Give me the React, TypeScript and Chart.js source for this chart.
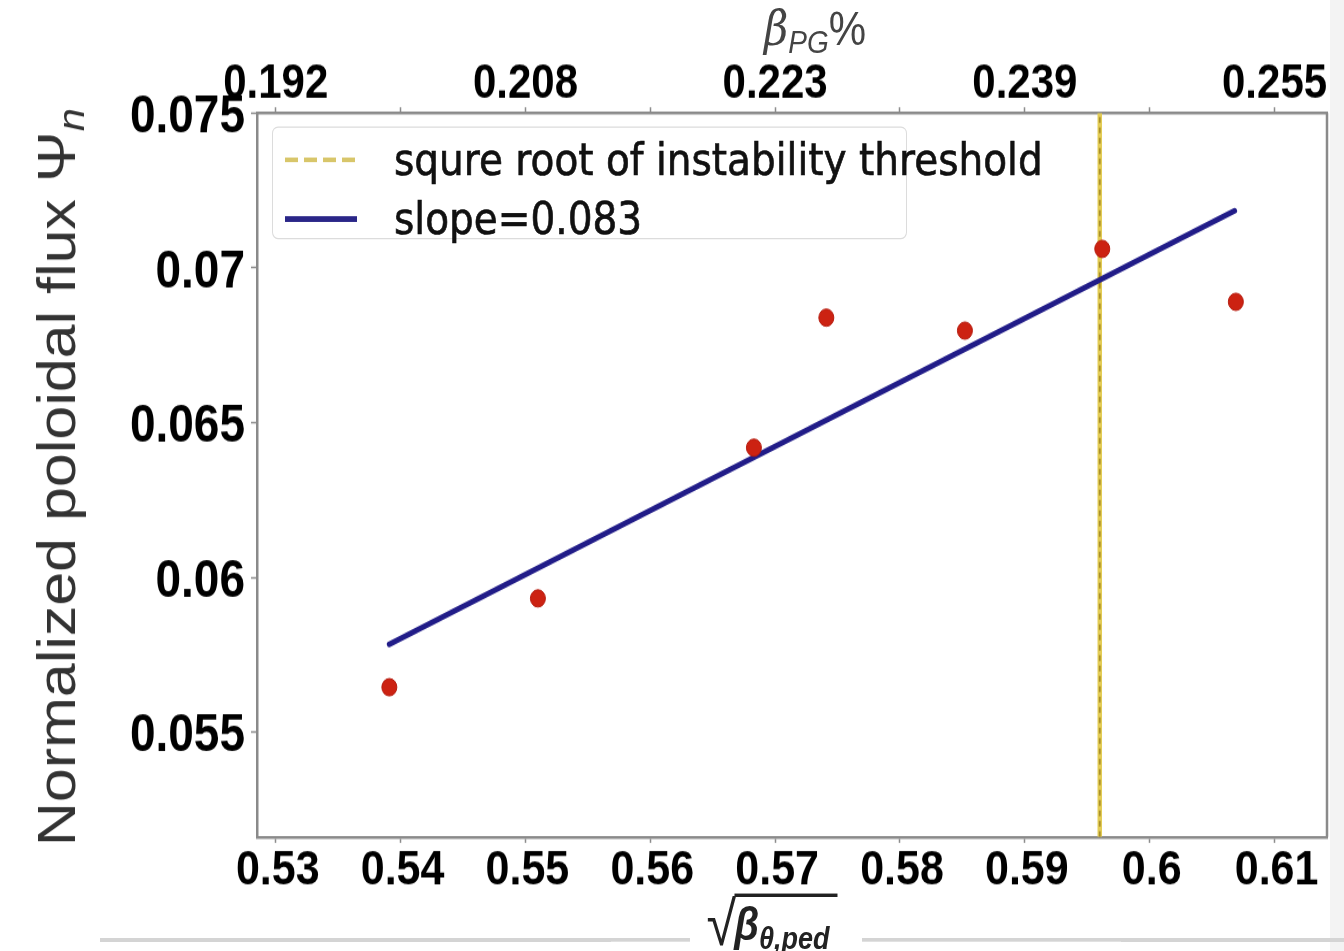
import React, { useEffect, useRef } from 'react';
import { Chart, registerables } from 'chart.js';

Chart.register(...registerables);

// ---- data ----
const xValues = [0.5391, 0.551, 0.5683, 0.5741, 0.5852, 0.5962, 0.6069];
const yValues = [0.05645, 0.05932, 0.06419, 0.06839, 0.06797, 0.07061, 0.0689];
const fitX = [0.5391, 0.6068];
const fitY = [0.05784, 0.07184];
const thresholdX = 0.596;

const xMin = 0.5285;
const xMax = 0.6142;
const yMin = 0.05161;
const yMax = 0.075;

const bottomTicks = [0.53, 0.54, 0.55, 0.56, 0.57, 0.58, 0.59, 0.6, 0.61];
const bottomTickLabels = ['0.53', '0.54', '0.55', '0.56', '0.57', '0.58', '0.59', '0.6', '0.61'];
const topTickLabels = ['0.192', '', '0.208', '', '0.223', '', '0.239', '', '0.255'];
const yTicks = [0.055, 0.06, 0.065, 0.07, 0.075];
const yTickLabels = ['0.055', '0.06', '0.065', '0.07', '0.075'];

const legendLabels = ['squre root of instability threshold', 'slope=0.083'];

// ---- layout ----
const W = 1344;
const S = 1.15; // vertical stretch of the reference picture
const H = 951 / S;
const PLOT_LEFT = 257;
const PLOT_RIGHT = 1327;
const PLOT_TOP = 113 / S;
const PLOT_BOTTOM = 837 / S;

const labelFor = (vals: number[], labels: string[]) => (v: number) => {
  const i = vals.findIndex((t) => Math.abs(t - v) < 1e-9);
  return i >= 0 ? labels[i] : '';
};

const tickFont = { family: '"Liberation Sans", Arial, sans-serif', weight: 'bold' as const };

const framePlugin = {
  id: 'frame',
  afterDraw(chart: any) {
    const { ctx, chartArea } = chart;
    ctx.save();
    ctx.strokeStyle = '#8a8a8a';
    ctx.lineWidth = 2.5;
    ctx.beginPath();
    ctx.moveTo(chartArea.right, chartArea.top);
    ctx.lineTo(chartArea.right, chartArea.bottom);
    ctx.stroke();
    ctx.restore();
  },
};

function ChartCanvas() {
  const ref = useRef<HTMLCanvasElement | null>(null);
  useEffect(() => {
    if (!ref.current) return;
    const chart = new Chart(ref.current, {
      type: 'scatter',
      data: {
        datasets: [
          {
            label: 'data',
            data: xValues.map((x, i) => ({ x, y: yValues[i] })),
            backgroundColor: '#cc2212',
            borderColor: '#b51a0d',
            borderWidth: 1,
            pointRadius: 7.5,
            showLine: false,
          },
          {
            label: 'fit',
            data: fitX.map((x, i) => ({ x, y: fitY[i] })),
            borderColor: '#211c88',
            borderWidth: 5,
            borderCapStyle: 'round',
            pointRadius: 0,
            showLine: true,
          },
          {
            label: 'threshold-dash',
            data: [
              { x: thresholdX, y: yMin },
              { x: thresholdX, y: yMax },
            ],
            borderColor: '#a88f2a',
            borderWidth: 1.8,
            borderDash: [5, 4],
            pointRadius: 0,
            showLine: true,
          },
          {
            label: 'threshold',
            data: [
              { x: thresholdX, y: yMin },
              { x: thresholdX, y: yMax },
            ],
            borderColor: '#e3cc55',
            borderWidth: 4.5,
            pointRadius: 0,
            showLine: true,
          },
        ],
      },
      options: {
        animation: false,
        responsive: true,
        maintainAspectRatio: false,
        devicePixelRatio: 1,
        layout: { padding: { left: 0, right: W - PLOT_RIGHT, top: 0, bottom: 0 } },
        plugins: { legend: { display: false }, tooltip: { enabled: false } },
        scales: {
          x: {
            type: 'linear',
            position: 'bottom',
            min: xMin,
            max: xMax,
            afterBuildTicks: (s: any) => {
              s.ticks = bottomTicks.map((v) => ({ value: v }));
            },
            afterFit: (s: any) => {
              s.height = H - PLOT_BOTTOM;
              s.paddingLeft = 0;
              s.paddingRight = 0;
            },
            ticks: {
              callback: labelFor(bottomTicks, bottomTickLabels),
              font: { ...tickFont, size: 43 },
              color: '#000',
              padding: -2,
              labelOffset: 2,
              maxRotation: 0,
              autoSkip: false,
            },
            grid: { drawOnChartArea: false, drawTicks: true, tickLength: 5, color: '#8a8a8a', tickWidth: 1.5 },
            border: { display: true, color: '#8a8a8a', width: 2.5 },
          },
          x2: {
            type: 'linear',
            position: 'top',
            min: xMin,
            max: xMax,
            afterBuildTicks: (s: any) => {
              s.ticks = bottomTicks.map((v) => ({ value: v }));
            },
            afterFit: (s: any) => {
              s.height = PLOT_TOP;
              s.paddingLeft = 0;
              s.paddingRight = 0;
            },
            ticks: {
              callback: labelFor(bottomTicks, topTickLabels),
              font: { ...tickFont, size: 42 },
              color: '#000',
              padding: -5,
              labelOffset: 0,
              maxRotation: 0,
              autoSkip: false,
            },
            grid: { drawOnChartArea: false, drawTicks: true, tickLength: 5, color: '#8a8a8a', tickWidth: 1.5 },
            border: { display: true, color: '#8a8a8a', width: 2.5 },
          },
          y: {
            type: 'linear',
            position: 'left',
            min: yMin,
            max: yMax,
            afterBuildTicks: (s: any) => {
              s.ticks = yTicks.map((v) => ({ value: v }));
            },
            afterFit: (s: any) => {
              s.width = PLOT_LEFT;
              s.paddingTop = 0;
              s.paddingBottom = 0;
            },
            ticks: {
              callback: labelFor(yTicks, yTickLabels),
              font: { ...tickFont, size: 46 },
              color: '#000',
              padding: 6,
              labelOffset: 4,
              autoSkip: false,
            },
            grid: { drawOnChartArea: false, drawTicks: true, tickLength: 6, color: '#8a8a8a', tickWidth: 1.5 },
            border: { display: true, color: '#8a8a8a', width: 2.5 },
          },
        },
      },
      plugins: [framePlugin],
    } as any);
    return () => chart.destroy();
  }, []);
  return <canvas ref={ref} />;
}

export default function App() {
  const abs = (o: React.CSSProperties): React.CSSProperties => ({ position: 'absolute', ...o });
  const legendText: React.CSSProperties = {
    fontFamily: '"DejaVu Sans", sans-serif',
    fontSize: 39,
    color: '#111',
    lineHeight: 1,
    whiteSpace: 'nowrap',
    transform: 'translateY(-50%)',
    WebkitTextStroke: '0.6px #111',
  };
  return (
    <div style={abs({ left: 0, top: 0, width: W, height: 951, background: '#fff', overflow: 'hidden' })}>
      <div
        style={abs({
          left: 0,
          top: 0,
          width: W,
          height: H,
          transform: `scaleY(${S})`,
          transformOrigin: '0 0',
        })}
      >
        {/* right light strip (behind the chart) */}
        <div style={abs({ left: 1330, top: 0, width: 14, height: H, background: '#f3f3f3' })} />

        <div style={abs({ left: 0, top: 0, width: W, height: H })}>
          <ChartCanvas />
        </div>

        {/* legend */}
        <div
          style={abs({
            left: 272,
            top: 110,
            width: 633,
            height: 96,
            border: '1.5px solid #dcdcdc',
            borderRadius: 6,
            background: 'rgba(255,255,255,0.85)',
          })}
        />
        <div
          style={abs({
            left: 285,
            top: 139 - 2,
            width: 72,
            height: 4,
            background: 'repeating-linear-gradient(90deg, #d8c66a 0 13px, transparent 13px 19px)',
          })}
        />
        <div style={abs({ left: 394, top: 139, ...legendText })}>{legendLabels[0]}</div>
        <div style={abs({ left: 285, top: 190 - 2.5, width: 72, height: 5, background: '#2a2688' })} />
        <div style={abs({ left: 394, top: 190, ...legendText })}>{legendLabels[1]}</div>

        {/* y title */}
        <div
          style={abs({
            left: 60,
            top: 415,
            transform: 'translate(-50%, -50%) rotate(-90deg)',
            fontFamily: '"Liberation Sans", Arial, sans-serif',
            fontSize: 53,
            color: '#333',
            whiteSpace: 'nowrap',
            lineHeight: 1,
          })}
        >
          Normalized poloidal flux Ψ<sub style={{ fontStyle: 'italic', fontSize: 36, verticalAlign: '-0.25em' }}>n</sub>
        </div>

        {/* top title */}
        <div
          style={abs({
            left: 815,
            top: 28,
            transform: 'translate(-50%, -50%)',
            fontFamily: '"Liberation Sans", Arial, sans-serif',
            fontSize: 42,
            color: '#444',
            whiteSpace: 'nowrap',
            lineHeight: 1,
          })}
        >
          <span style={{ fontStyle: 'italic', fontFamily: '"DejaVu Serif", serif' }}>β</span>
          <sub style={{ fontStyle: 'italic', fontSize: 28, verticalAlign: '-0.25em' }}>PG</sub>%
        </div>

        {/* bottom title */}
        <div
          style={abs({
            left: 772,
            top: 803,
            transform: 'translate(-50%, -50%)',
            fontFamily: '"Liberation Sans", Arial, sans-serif',
            fontSize: 40,
            fontWeight: 'bold',
            color: '#222',
            whiteSpace: 'nowrap',
            lineHeight: 1,
            background: '#fff',
            padding: '0 6px',
            display: 'flex',
            alignItems: 'flex-end',
          })}
        >
          <span style={{ fontWeight: 'normal', fontSize: 54, lineHeight: 1, marginRight: -2 }}>√</span>
          <span style={{ borderTop: '3px solid #222', fontStyle: 'italic', paddingTop: 3, paddingRight: 8 }}>
            β<sub style={{ fontSize: 27, verticalAlign: '-0.3em' }}>θ,ped</sub>
          </span>
        </div>

        {/* bottom gray rule */}
        <div style={abs({ left: 100, top: 816, width: 590, height: 2.5, background: '#d4d4d4' })} />
        <div style={abs({ left: 862, top: 816, width: 482, height: 2.5, background: '#d4d4d4' })} />
      </div>
    </div>
  );
}
